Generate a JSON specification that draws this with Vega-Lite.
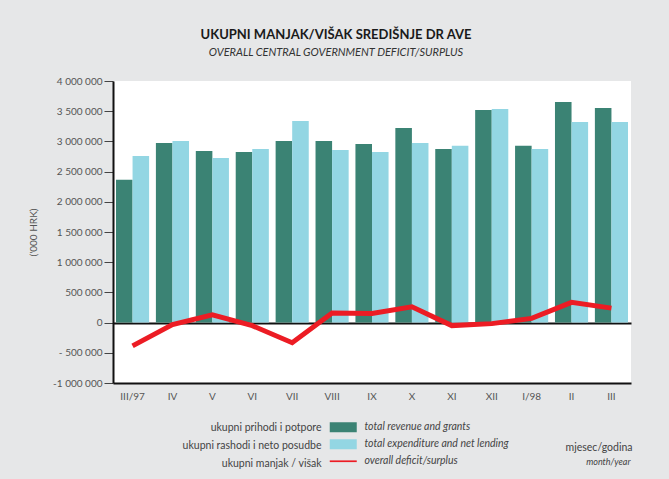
{
  "$schema": "https://vega.github.io/schema/vega-lite/v6.json",
  "width": 518,
  "height": 302,
  "autosize": {"type": "none"},
  "padding": {"left": 113, "top": 81, "right": 38, "bottom": 96},
  "background": "#e6e7e8",
  "view": {"fill": "white", "stroke": null},
  "title": {
    "text": "UKUPNI MANJAK/VIŠAK SREDIŠNJE DR AVE",
    "subtitle": "OVERALL CENTRAL GOVERNMENT DEFICIT/SURPLUS",
    "anchor": "middle",
    "dx": -36,
    "offset": 18,
    "font": "Lato",
    "fontSize": 13,
    "fontWeight": "bold",
    "color": "#1a1a1a",
    "subtitleFont": "Lato",
    "subtitleFontSize": 11,
    "subtitleFontStyle": "italic",
    "subtitleColor": "#333333",
    "subtitlePadding": 5
  },
  "config": {
    "font": "Lato",
    "axis": {"labelFont": "Lato", "titleFont": "Lato"},
    "axisX": {"grid": false},
    "axisY": {"labelOverlap": false}
  },
  "data": {
    "values": [
      {"month": "III/97", "en": "total revenue and grants", "hr": "ukupni prihodi i potpore", "value": 2364000},
      {"month": "III/97", "en": "total expenditure and net lending", "hr": "ukupni rashodi i neto posudbe", "value": 2760000},
      {"month": "III/97", "en": "overall deficit/surplus", "hr": "ukupni manjak / višak", "value": -385000},
      {"month": "IV", "en": "total revenue and grants", "hr": "ukupni prihodi i potpore", "value": 2975000},
      {"month": "IV", "en": "total expenditure and net lending", "hr": "ukupni rashodi i neto posudbe", "value": 3008000},
      {"month": "IV", "en": "overall deficit/surplus", "hr": "ukupni manjak / višak", "value": -33000},
      {"month": "V", "en": "total revenue and grants", "hr": "ukupni prihodi i potpore", "value": 2843000},
      {"month": "V", "en": "total expenditure and net lending", "hr": "ukupni rashodi i neto posudbe", "value": 2727000},
      {"month": "V", "en": "overall deficit/surplus", "hr": "ukupni manjak / višak", "value": 128000},
      {"month": "VI", "en": "total revenue and grants", "hr": "ukupni prihodi i potpore", "value": 2826000},
      {"month": "VI", "en": "total expenditure and net lending", "hr": "ukupni rashodi i neto posudbe", "value": 2876000},
      {"month": "VI", "en": "overall deficit/surplus", "hr": "ukupni manjak / višak", "value": -50000},
      {"month": "VII", "en": "total revenue and grants", "hr": "ukupni prihodi i potpore", "value": 3008000},
      {"month": "VII", "en": "total expenditure and net lending", "hr": "ukupni rashodi i neto posudbe", "value": 3339000},
      {"month": "VII", "en": "overall deficit/surplus", "hr": "ukupni manjak / višak", "value": -333000},
      {"month": "VIII", "en": "total revenue and grants", "hr": "ukupni prihodi i potpore", "value": 3008000},
      {"month": "VIII", "en": "total expenditure and net lending", "hr": "ukupni rashodi i neto posudbe", "value": 2859000},
      {"month": "VIII", "en": "overall deficit/surplus", "hr": "ukupni manjak / višak", "value": 160000},
      {"month": "IX", "en": "total revenue and grants", "hr": "ukupni prihodi i potpore", "value": 2958000},
      {"month": "IX", "en": "total expenditure and net lending", "hr": "ukupni rashodi i neto posudbe", "value": 2826000},
      {"month": "IX", "en": "overall deficit/surplus", "hr": "ukupni manjak / višak", "value": 150000},
      {"month": "X", "en": "total revenue and grants", "hr": "ukupni prihodi i potpore", "value": 3223000},
      {"month": "X", "en": "total expenditure and net lending", "hr": "ukupni rashodi i neto posudbe", "value": 2975000},
      {"month": "X", "en": "overall deficit/surplus", "hr": "ukupni manjak / višak", "value": 262000},
      {"month": "XI", "en": "total revenue and grants", "hr": "ukupni prihodi i potpore", "value": 2876000},
      {"month": "XI", "en": "total expenditure and net lending", "hr": "ukupni rashodi i neto posudbe", "value": 2926000},
      {"month": "XI", "en": "overall deficit/surplus", "hr": "ukupni manjak / višak", "value": -50000},
      {"month": "XII", "en": "total revenue and grants", "hr": "ukupni prihodi i potpore", "value": 3520000},
      {"month": "XII", "en": "total expenditure and net lending", "hr": "ukupni rashodi i neto posudbe", "value": 3537000},
      {"month": "XII", "en": "overall deficit/surplus", "hr": "ukupni manjak / višak", "value": -17000},
      {"month": "I/98", "en": "total revenue and grants", "hr": "ukupni prihodi i potpore", "value": 2926000},
      {"month": "I/98", "en": "total expenditure and net lending", "hr": "ukupni rashodi i neto posudbe", "value": 2876000},
      {"month": "I/98", "en": "overall deficit/surplus", "hr": "ukupni manjak / višak", "value": 70000},
      {"month": "II", "en": "total revenue and grants", "hr": "ukupni prihodi i potpore", "value": 3653000},
      {"month": "II", "en": "total expenditure and net lending", "hr": "ukupni rashodi i neto posudbe", "value": 3322000},
      {"month": "II", "en": "overall deficit/surplus", "hr": "ukupni manjak / višak", "value": 336000},
      {"month": "III", "en": "total revenue and grants", "hr": "ukupni prihodi i potpore", "value": 3554000},
      {"month": "III", "en": "total expenditure and net lending", "hr": "ukupni rashodi i neto posudbe", "value": 3322000},
      {"month": "III", "en": "overall deficit/surplus", "hr": "ukupni manjak / višak", "value": 240000}
    ]
  },
  "encoding": {
    "y": {
      "field": "value",
      "type": "quantitative",
      "scale": {"domain": [-1000000, 4000000], "nice": false},
      "axis": {
        "title": "('000 HRK)",
        "values": [-1000000, -500000, 0, 500000, 1000000, 1500000, 2000000, 2500000, 3000000, 3500000, 4000000],
        "tickCount": 11,
        "labelExpr": "datum.value < 0 ? (datum.value == -500000 ? '- 500 000' : '-' + replace(format(-datum.value, ','), /,/g, ' ')) : replace(format(datum.value, ','), /,/g, ' ')",
        "labelOverlap": false,
        "labelSeparation": 0,
        "labelFontSize": 10,
        "labelColor": "#555555",
        "labelPadding": 2,
        "tickSize": 9,
        "tickColor": "#444444",
        "tickWidth": 1,
        "domainColor": "#111111",
        "domainWidth": 2,
        "grid": true,
        "gridColor": {"condition": {"test": "datum.value === 0", "value": "#111111"}, "value": "transparent"},
        "gridWidth": 2,
        "titleFontSize": 10,
        "titleFontWeight": "normal",
        "titleColor": "#555555",
        "titlePadding": 14
      }
    }
  },
  "resolve": {"axis": {"x": "independent"}},
  "layer": [
    {
      "transform": [{"filter": "datum.en != 'overall deficit/surplus'"}],
      "mark": {"type": "bar"},
      "encoding": {
        "x": {
          "field": "month",
          "type": "nominal",
          "sort": ["III/97", "IV", "V", "VI", "VII", "VIII", "IX", "X", "XI", "XII", "I/98", "II", "III"],
          "scale": {"paddingInner": 0.17, "paddingOuter": 0.075},
          "axis": {
            "orient": "bottom",
            "title": "mjesec/godina",
            "labelAngle": 0,
            "labelFontSize": 10,
            "labelColor": "#555555",
            "labelPadding": 8,
            "ticks": false,
            "domain": true,
            "domainColor": "#111111",
            "domainWidth": 2,
            "titleFontSize": 10.5,
            "titleFontWeight": "normal",
            "titleColor": "#444444",
            "titleAlign": "right",
            "titleAnchor": "end",
            "titleBaseline": "alphabetic",
            "titleX": 519,
            "titleY": 67
          }
        },
        "xOffset": {
          "field": "en",
          "type": "nominal",
          "sort": ["total revenue and grants", "total expenditure and net lending"]
        },
        "color": {
          "field": "en",
          "type": "nominal",
          "scale": {
            "domain": ["total revenue and grants", "total expenditure and net lending", "overall deficit/surplus"],
            "range": ["#3b8374", "#93d6e3", "#ec1c24"]
          },
          "legend": {
            "title": null,
            "orient": "none",
            "legendX": 225,
            "legendY": 341,
            "direction": "vertical",
            "symbolType": "M-2.7,-1H2.7V1H-2.7Z",
            "symbolSize": 100,
            "symbolStrokeWidth": 0,
            "labelFont": "Lato",
            "labelFontStyle": "italic",
            "labelFontSize": 10.5,
            "labelColor": "#444444",
            "labelOffset": 16,
            "rowPadding": 6,
            "zindex": 2,
            "encode": {
              "symbols": {
                "update": {
                  "shape": {"signal": "datum.value == 'overall deficit/surplus' ? 'M-2.7,-0.17H2.7V0.17H-2.7Z' : 'M-2.7,-1H2.7V1H-2.7Z'"},
                  "fill": {"scale": "color", "field": "value"},
                  "strokeWidth": {"value": 0},
                  "opacity": {"value": 1}
                }
              }
            }
          }
        },
        "opacity": {
          "field": "hr",
          "type": "ordinal",
          "scale": {
            "domain": ["ukupni prihodi i potpore", "ukupni rashodi i neto posudbe", "ukupni manjak / višak"],
            "range": [1, 1, 1]
          },
          "legend": {
            "title": null,
            "orient": "none",
            "legendX": 225,
            "legendY": 342,
            "direction": "vertical",
            "symbolType": "M-2.7,-1H2.7V1H-2.7Z",
            "symbolSize": 100,
            "symbolFillColor": "transparent",
            "symbolStrokeColor": "transparent",
            "symbolStrokeWidth": 0,
            "labelAlign": "right",
            "labelOffset": -27,
            "labelFont": "Lato",
            "labelFontSize": 10.5,
            "labelColor": "#444444",
            "rowPadding": 7,
            "zindex": 1,
            "encode": {
              "symbols": {
                "update": {
                  "fill": {"value": "transparent"},
                  "stroke": {"value": "transparent"},
                  "fillOpacity": {"value": 0},
                  "strokeOpacity": {"value": 0},
                  "opacity": {"value": 0}
                }
              }
            }
          }
        }
      }
    },
    {
      "transform": [{"filter": "datum.en == 'overall deficit/surplus'"}],
      "mark": {"type": "line", "strokeWidth": 5},
      "encoding": {
        "x": {
          "field": "month",
          "type": "nominal",
          "sort": ["III/97", "IV", "V", "VI", "VII", "VIII", "IX", "X", "XI", "XII", "I/98", "II", "III"],
          "axis": {
            "orient": "bottom",
            "title": "month/year",
            "labels": false,
            "ticks": false,
            "domain": false,
            "titleFontSize": 9,
            "titleFontStyle": "italic",
            "titleFontWeight": "normal",
            "titleColor": "#444444",
            "titleAlign": "right",
            "titleAnchor": "end",
            "titleBaseline": "alphabetic",
            "titleX": 517,
            "titleY": 81
          }
        },
        "color": {"field": "en", "type": "nominal"}
      }
    }
  ]
}
